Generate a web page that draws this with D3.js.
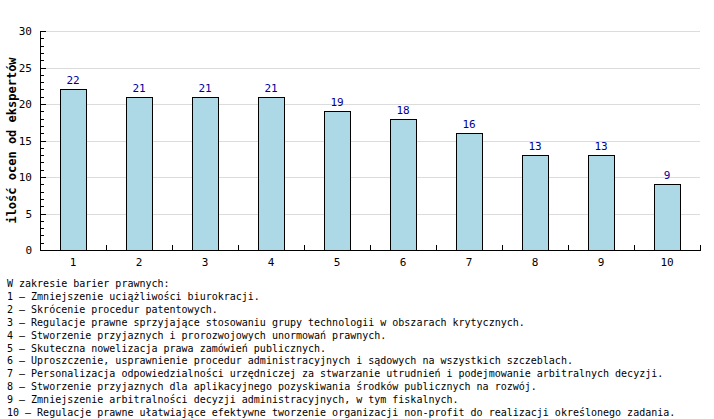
<!DOCTYPE html>
<html><head><meta charset="utf-8">
<script src="https://cdn.jsdelivr.net/npm/d3@7"></script>
<style>body{margin:0;background:#fff}svg{display:block}</style>
</head><body>
<script>
const categories = ["1","2","3","4","5","6","7","8","9","10"];
const values = [22,21,21,21,19,18,16,13,13,9];
const yTicks = [0,5,10,15,20,25,30];
const yTitle = "ilość ocen od ekspertów";
const legendTitle = "W zakresie barier prawnych:";
const legendItems = [
"Zmniejszenie uciążliwości biurokracji.",
"Skrócenie procedur patentowych.",
"Regulacje prawne sprzyjające stosowaniu grupy technologii w obszarach krytycznych.",
"Stworzenie przyjaznych i prorozwojowych unormowań prawnych.",
"Skuteczna nowelizacja prawa zamówień publicznych.",
"Uproszczenie, usprawnienie procedur administracyjnych i sądowych na wszystkich szczeblach.",
"Personalizacja odpowiedzialności urzędniczej za stwarzanie utrudnień i podejmowanie arbitralnych decyzji.",
"Stworzenie przyjaznych dla aplikacyjnego pozyskiwania środków publicznych na rozwój.",
"Zmniejszenie arbitralności decyzji administracyjnych, w tym fiskalnych.",
"Regulacje prawne ułatwiające efektywne tworzenie organizacji non-profit do realizacji określonego zadania."
];

const W=714,H=419;
const font="'DejaVu Sans Mono', monospace";
const svg=d3.select("body").append("svg").attr("width",W).attr("height",H);
const L=40,R=700,T=31,B=250;
const x=d3.scaleBand().domain(categories).range([L,R]);
const y=d3.scaleLinear().domain([0,30]).range([B,T]);

// grid
svg.append("g").selectAll("line").data(yTicks.filter(d=>d>0)).join("line")
 .attr("x1",L).attr("x2",R).attr("y1",d=>Math.round(y(d))+0.5).attr("y2",d=>Math.round(y(d))+0.5)
 .attr("stroke","#dcdcdc").attr("stroke-width",1);

// bars
const bw=26;
svg.append("g").selectAll("rect").data(values).join("rect")
 .attr("x",(d,i)=>Math.round(x(categories[i])+x.bandwidth()/2-bw/2)+0.5)
 .attr("y",d=>Math.round(y(d))+0.5)
 .attr("width",bw).attr("height",d=>Math.round(B)-Math.round(y(d)))
 .attr("fill","#add8e6").attr("stroke","#000").attr("stroke-width",1);

// value labels
svg.append("g").selectAll("text").data(values).join("text")
 .attr("x",(d,i)=>x(categories[i])+x.bandwidth()/2)
 .attr("y",d=>y(d)-5)
 .attr("text-anchor","middle").attr("font-family",font).attr("font-size",11)
 .attr("fill","#000099").text(d=>d);

// y axis
const ya=svg.append("g");
ya.append("line").attr("x1",L+0.5).attr("x2",L+0.5).attr("y1",T).attr("y2",B+0.5).attr("stroke","#000");
ya.selectAll("line.minor").data(d3.range(0,31)).join("line").attr("class","minor")
 .attr("x1",L).attr("x2",d=>d%5===0?L+6:L+4)
 .attr("y1",d=>Math.round(y(d))+0.5).attr("y2",d=>Math.round(y(d))+0.5).attr("stroke","#000");
ya.selectAll("text").data(yTicks).join("text")
 .attr("x",L-8).attr("y",d=>y(d)+4).attr("text-anchor","end")
 .attr("font-family",font).attr("font-size",11).attr("fill","#000").text(d=>d);

// x axis
const xa=svg.append("g");
xa.append("line").attr("x1",L).attr("x2",R+1).attr("y1",B+0.5).attr("y2",B+0.5).attr("stroke","#000");
xa.selectAll("line.t").data(d3.range(0,11)).join("line").attr("class","t")
 .attr("x1",i=>Math.round(L+i*x.step())+0.5).attr("x2",i=>Math.round(L+i*x.step())+0.5)
 .attr("y1",B-5).attr("y2",B).attr("stroke","#000");
xa.selectAll("text").data(categories).join("text")
 .attr("x",d=>x(d)+x.bandwidth()/2).attr("y",B+16).attr("text-anchor","middle")
 .attr("font-family",font).attr("font-size",11).attr("fill","#000").text(d=>d);

// y title
svg.append("text").attr("transform","translate(16,"+((T+B)/2)+") rotate(-90)")
 .attr("text-anchor","middle").attr("font-family",font).attr("font-size",12).attr("font-weight","bold")
 .text(yTitle);

// legend
const lg=svg.append("g").attr("font-family",font).attr("font-size",10).attr("fill","#000");
const lines=[legendTitle].concat(legendItems.map((t,i)=>categories[i]+" – "+t));
lg.selectAll("text").data(lines).join("text")
 .attr("x",7).attr("y",(d,i)=>287+i*12.9).text(d=>d).attr("xml:space","preserve");
</script>
</body></html>
